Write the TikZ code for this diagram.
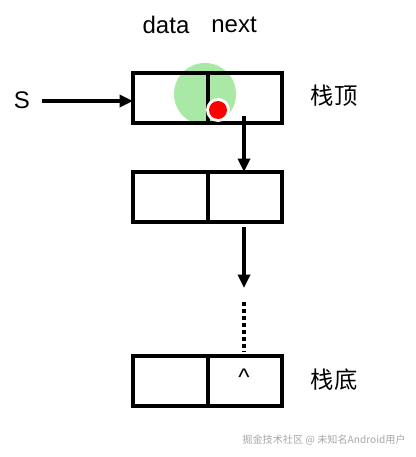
\documentclass[tikz,border=0pt]{standalone}
\usepackage{fontspec}
\setmainfont{Liberation Sans}
\newfontfamily\cjk{Noto Sans CJK SC}
\usetikzlibrary{arrows.meta}
\definecolor{hl}{RGB}{170,232,165}
\begin{document}
\begin{tikzpicture}[x=0.75pt,y=-0.75pt,
  cell/.style={draw,line width=3pt,minimum width=74.5*0.75pt,minimum height=50*0.75pt,inner sep=0pt,outer sep=0pt},
  conn/.style={line width=2.5pt,-{Triangle[length=10pt,width=9pt]}},
  lab/.style={font=\fontsize{18}{21}\selectfont},
  cjklab/.style={font=\cjk\fontsize{17.5}{20}\selectfont}]
\useasboundingbox (0,0) rectangle (416,457);
% highlight
\fill[hl] (205,94) circle (31);
% cells
\node[cell,anchor=north west] (d1) at (133,72.5) {};
\node[cell,anchor=north west] (n1) at (207.5,72.5) {};
\node[cell,anchor=north west] (d2) at (133,172) {};
\node[cell,anchor=north west] (n2) at (207.5,172) {};
\node[cell,anchor=north west] (d3) at (133,356) {};
\node[cell,anchor=north west] (n3) at (207.5,356) {};
% labels
\node[lab] (ldata) at (166,25) {data};
\node[lab] (lnext) at (234,25) {next};
\node[lab] (s) at (22,100) {S};
\node[cjklab] (top) at (334,96) {栈顶};
\node[cjklab] (bot) at (334,380) {栈底};
\node[lab] (nul) at (244,377) {\^{}};
% cursor dot
\fill[white] (218,110) circle (12);
\fill[red] (218,110) circle (9);
% connectors
\coordinate (p1) at (244,116);
\draw[conn] (p1) -- (p1 |- n2.north);
\coordinate (p2) at (244,227);
\coordinate (p3) at (244,288);
\draw[conn] (p2) -- (p3);
\coordinate (p4) at (244,302);
\coordinate (p5) at (244,352);
\draw[line width=3pt,dash pattern=on 3pt off 2.2pt] (p4) -- (p5);
\coordinate (sa) at (42,101);
\draw[conn] (sa) -- (sa -| d1.west);
% watermark
\node[font=\cjk\fontsize{7.6}{9}\selectfont,text=gray!70] (wm) at (324,440) {掘金技术社区 @ 未知名Android用户};
\end{tikzpicture}
\end{document}
